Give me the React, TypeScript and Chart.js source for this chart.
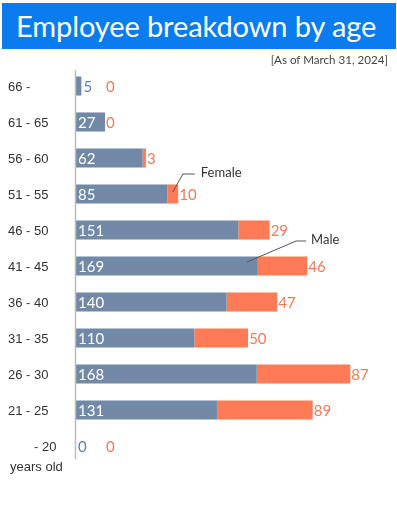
import React, { useEffect, useRef } from "react";
import { Chart, registerables } from "chart.js";

Chart.register(...registerables);

const categories = ["66 -", "61 - 65", "56 - 60", "51 - 55", "46 - 50", "41 - 45", "36 - 40", "31 - 35", "26 - 30", "21 - 25", "- 20"];
const maleValues = [5, 27, 62, 85, 151, 169, 140, 110, 168, 131, 0];
const femaleValues = [0, 0, 3, 10, 29, 46, 47, 50, 87, 89, 0];
const titleText = "Employee breakdown by age";
const subtitleText = "[As of March 31, 2024]";
const unitText = "years old";

const MALE = "#7189a6";
const FEMALE = "#ff7b55";
const MALE_TXT = "#5d7fb4";
const FEMALE_TXT = "#f07a58";

export default function App() {
  const ref = useRef<HTMLCanvasElement | null>(null);

  useEffect(() => {
    document.body.style.margin = "0";
    const canvas = ref.current;
    if (!canvas) return;

    const labelPlugin = {
      id: "labels",
      afterDatasetsDraw(chart: any) {
        const ctx = chart.ctx;
        const xs = chart.scales.x;
        const ys = chart.scales.y;
        ctx.save();
        // axis line
        ctx.strokeStyle = "#bdbdbd";
        ctx.lineWidth = 1.5;
        ctx.beginPath();
        ctx.moveTo(xs.getPixelForValue(0) - 0.5, ys.top + 2);
        ctx.lineTo(xs.getPixelForValue(0) - 0.5, ys.bottom - 5);
        ctx.stroke();

        ctx.textBaseline = "middle";
        categories.forEach((cat, i) => {
          const y = ys.getPixelForValue(i);
          ctx.font = "13px 'Liberation Sans', Arial, sans-serif";
          ctx.fillStyle = "#333";
          ctx.textAlign = "left";
          const cx = i === categories.length - 1 ? 34 : 8;
          ctx.fillText(cat, cx, y + 1);

          const m = maleValues[i];
          const f = femaleValues[i];
          ctx.font = "15px Lato, sans-serif";
          const mEnd = xs.getPixelForValue(m);
          if (m >= 20) {
            ctx.fillStyle = "#ffffff";
            ctx.fillText(String(m), xs.getPixelForValue(0) + 2, y + 1);
          } else {
            ctx.fillStyle = MALE_TXT;
            ctx.fillText(String(m), mEnd + 2, y + 1);
          }
          const fEnd = xs.getPixelForValue(m + f);
          const fx = Math.max(fEnd + 1, xs.getPixelForValue(28));
          ctx.fillStyle = FEMALE_TXT;
          ctx.fillText(String(f), fx, y + 1);
        });

        ctx.font = "13px 'Liberation Sans', Arial, sans-serif";
        ctx.fillStyle = "#333";
        ctx.fillText(unitText, 10, ys.getPixelForValue(categories.length - 1) + 21);

        // annotations
        ctx.strokeStyle = "#555";
        ctx.lineWidth = 1;
        ctx.font = "13px Lato, sans-serif";
        ctx.fillStyle = "#333";
        const fi = 3;
        const fax = xs.getPixelForValue(maleValues[fi] + femaleValues[fi] / 2);
        const fay = ys.getPixelForValue(fi) - 2;
        ctx.beginPath();
        ctx.moveTo(fax, fay);
        ctx.lineTo(fax + 10, fay - 18);
        ctx.lineTo(fax + 22, fay - 18);
        ctx.stroke();
        ctx.fillText("Female", fax + 28, fay - 19);
        const mi = 5;
        const max = xs.getPixelForValue(maleValues[mi] - 10);
        const may = ys.getPixelForValue(mi) - 4;
        ctx.beginPath();
        ctx.moveTo(max, may);
        ctx.lineTo(max + 49, may - 21);
        ctx.lineTo(max + 59, may - 21);
        ctx.stroke();
        ctx.fillText("Male", max + 64, may - 22);
        ctx.restore();
      },
    };

    const chart = new Chart(canvas, {
      type: "bar",
      data: {
        labels: categories,
        datasets: [
          { label: "Male", data: maleValues, backgroundColor: MALE, categoryPercentage: 1, barPercentage: 0.53 },
          { label: "Female", data: femaleValues, backgroundColor: FEMALE, categoryPercentage: 1, barPercentage: 0.53 },
        ],
      },
      options: {
        indexAxis: "y",
        animation: false,
        responsive: false,
        layout: { padding: { left: 76, right: 9, top: 68, bottom: 67 } },
        plugins: { legend: { display: false }, tooltip: { enabled: false }, title: { display: false } },
        scales: {
          x: { stacked: true, min: 0, max: 290, display: false },
          y: { stacked: true, display: false },
        },
      },
      plugins: [labelPlugin],
    });
    return () => chart.destroy();
  }, []);

  return (
    <div style={{ position: "relative", width: 397, height: 531, background: "#fff" }}>
      <canvas ref={ref} width={397} height={531} style={{ position: "absolute", left: 0, top: 0 }} />
      <div
        style={{
          position: "absolute",
          left: 2,
          top: 3,
          width: 394,
          height: 46,
          background: "#0a7cee",
          color: "#fff",
          fontFamily: "Lato, sans-serif",
          fontSize: 29,
          letterSpacing: -0.1,
          lineHeight: "46px",
          paddingLeft: 14,
          boxSizing: "border-box",
          whiteSpace: "nowrap",
        }}
      >
        {titleText}
      </div>
      <div
        style={{
          position: "absolute",
          right: 9,
          top: 53,
          fontFamily: "Lato, sans-serif",
          fontSize: 11.6,
          color: "#444",
          whiteSpace: "nowrap",
        }}
      >
        {subtitleText}
      </div>
    </div>
  );
}
